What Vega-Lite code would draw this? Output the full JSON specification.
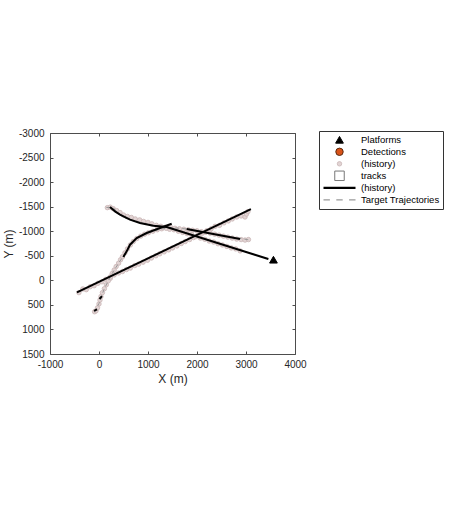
{
  "$schema": "https://vega.github.io/schema/vega-lite/v6.json",
  "width": 245,
  "height": 221,
  "autosize": {"type": "none"},
  "padding": {"left": 50, "top": 133, "right": 179, "bottom": 151},
  "background": "white",
  "config": {
    "font": "Liberation Sans",
    "view": {"stroke": "#4d4d4d", "strokeWidth": 1}
  },
  "resolve": {"axis": {"x": "independent", "y": "independent"}},
  "datasets": {
    "traj": [
      {"id": "T1", "i": 0, "x": -450, "y": 245},
      {"id": "T1", "i": 1, "x": 3100, "y": -1450},
      {"id": "T2", "i": 0, "x": 150, "y": -1485},
      {"id": "T2", "i": 1, "x": 300, "y": -1470},
      {"id": "T2", "i": 2, "x": 400, "y": -1350},
      {"id": "T2", "i": 3, "x": 550, "y": -1260},
      {"id": "T2", "i": 4, "x": 800, "y": -1180},
      {"id": "T2", "i": 5, "x": 1100, "y": -1120},
      {"id": "T2", "i": 6, "x": 1381, "y": -1086},
      {"id": "T2", "i": 7, "x": 3480, "y": -426},
      {"id": "T3", "i": 0, "x": -90, "y": 645},
      {"id": "T3", "i": 1, "x": 0, "y": 470},
      {"id": "T3", "i": 2, "x": 100, "y": 190},
      {"id": "T3", "i": 3, "x": 250, "y": -110},
      {"id": "T3", "i": 4, "x": 400, "y": -350},
      {"id": "T3", "i": 5, "x": 500, "y": -500},
      {"id": "T3", "i": 6, "x": 620, "y": -690},
      {"id": "T3", "i": 7, "x": 750, "y": -840},
      {"id": "T3", "i": 8, "x": 900, "y": -930},
      {"id": "T3", "i": 9, "x": 1100, "y": -1000},
      {"id": "T3", "i": 10, "x": 1300, "y": -1050},
      {"id": "T3", "i": 11, "x": 1480, "y": -1075},
      {"id": "T3", "i": 12, "x": 1800, "y": -1045},
      {"id": "T3", "i": 13, "x": 2400, "y": -935},
      {"id": "T3", "i": 14, "x": 3050, "y": -825}
    ],
    "tracks": [
      {"id": "K1", "i": 0, "x": -450, "y": 245},
      {"id": "K1", "i": 1, "x": 3100, "y": -1450},
      {"id": "K2", "i": 0, "x": 224, "y": -1493},
      {"id": "K2", "i": 1, "x": 327, "y": -1405},
      {"id": "K2", "i": 2, "x": 429, "y": -1337},
      {"id": "K2", "i": 3, "x": 633, "y": -1235},
      {"id": "K2", "i": 4, "x": 837, "y": -1167},
      {"id": "K2", "i": 5, "x": 1109, "y": -1113},
      {"id": "K2", "i": 6, "x": 1381, "y": -1086},
      {"id": "K2", "i": 7, "x": 3456, "y": -434},
      {"id": "K3a", "i": 0, "x": -100, "y": 620},
      {"id": "K3a", "i": 1, "x": -40, "y": 590},
      {"id": "K3b", "i": 0, "x": 10, "y": 380},
      {"id": "K3b", "i": 1, "x": 60, "y": 320},
      {"id": "K3c", "i": 0, "x": 497, "y": -475},
      {"id": "K3c", "i": 1, "x": 565, "y": -590},
      {"id": "K3c", "i": 2, "x": 633, "y": -726},
      {"id": "K3c", "i": 3, "x": 769, "y": -862},
      {"id": "K3c", "i": 4, "x": 973, "y": -963},
      {"id": "K3c", "i": 5, "x": 1245, "y": -1065},
      {"id": "K3c", "i": 6, "x": 1483, "y": -1153},
      {"id": "K3d", "i": 0, "x": 1789, "y": -1045},
      {"id": "K3d", "i": 1, "x": 2878, "y": -841}
    ],
    "pts": [
      {"series": "Platforms", "x": 3560, "y": -420},
      {"series": "det_history", "x": -410, "y": 250},
      {"series": "det_history", "x": -330, "y": 175},
      {"series": "det_history", "x": -260, "y": 190},
      {"series": "det_history", "x": -180, "y": 130},
      {"series": "det_history", "x": -100, "y": 110},
      {"series": "det_history", "x": -20, "y": 60},
      {"series": "det_history", "x": 60, "y": 30},
      {"series": "det_history", "x": 140, "y": -20},
      {"series": "det_history", "x": 230, "y": -40},
      {"series": "det_history", "x": 310, "y": -110},
      {"series": "det_history", "x": 400, "y": -150},
      {"series": "det_history", "x": 480, "y": -180},
      {"series": "det_history", "x": 560, "y": -220},
      {"series": "det_history", "x": 640, "y": -250},
      {"series": "det_history", "x": 730, "y": -300},
      {"series": "det_history", "x": 810, "y": -330},
      {"series": "det_history", "x": 900, "y": -370},
      {"series": "det_history", "x": 990, "y": -410},
      {"series": "det_history", "x": 1070, "y": -455},
      {"series": "det_history", "x": 1160, "y": -500},
      {"series": "det_history", "x": 1240, "y": -540},
      {"series": "det_history", "x": 1330, "y": -580},
      {"series": "det_history", "x": 1420, "y": -620},
      {"series": "det_history", "x": 1500, "y": -660},
      {"series": "det_history", "x": 1590, "y": -700},
      {"series": "det_history", "x": 1680, "y": -750},
      {"series": "det_history", "x": 1760, "y": -790},
      {"series": "det_history", "x": 1850, "y": -830},
      {"series": "det_history", "x": 1930, "y": -870},
      {"series": "det_history", "x": 2020, "y": -920},
      {"series": "det_history", "x": 2110, "y": -960},
      {"series": "det_history", "x": 2200, "y": -1010},
      {"series": "det_history", "x": 2290, "y": -1050},
      {"series": "det_history", "x": 2370, "y": -1100},
      {"series": "det_history", "x": 2460, "y": -1120},
      {"series": "det_history", "x": 2550, "y": -1170},
      {"series": "det_history", "x": 2640, "y": -1210},
      {"series": "det_history", "x": 2720, "y": -1250},
      {"series": "det_history", "x": 2810, "y": -1290},
      {"series": "det_history", "x": 2900, "y": -1310},
      {"series": "det_history", "x": 2980, "y": -1290},
      {"series": "det_history", "x": 3010, "y": -1350},
      {"series": "det_history", "x": 3040, "y": -1400},
      {"series": "det_history", "x": 170, "y": -1480},
      {"series": "det_history", "x": 230, "y": -1490},
      {"series": "det_history", "x": 290, "y": -1460},
      {"series": "det_history", "x": 360, "y": -1420},
      {"series": "det_history", "x": 430, "y": -1380},
      {"series": "det_history", "x": 500, "y": -1330},
      {"series": "det_history", "x": 580, "y": -1300},
      {"series": "det_history", "x": 660, "y": -1280},
      {"series": "det_history", "x": 740, "y": -1250},
      {"series": "det_history", "x": 830, "y": -1230},
      {"series": "det_history", "x": 910, "y": -1200},
      {"series": "det_history", "x": 1000, "y": -1180},
      {"series": "det_history", "x": 1080, "y": -1150},
      {"series": "det_history", "x": 1170, "y": -1120},
      {"series": "det_history", "x": 1260, "y": -1100},
      {"series": "det_history", "x": 1350, "y": -1080},
      {"series": "det_history", "x": 1440, "y": -1040},
      {"series": "det_history", "x": 1530, "y": -1030},
      {"series": "det_history", "x": 1620, "y": -1000},
      {"series": "det_history", "x": 1710, "y": -975},
      {"series": "det_history", "x": 1800, "y": -950},
      {"series": "det_history", "x": 1890, "y": -930},
      {"series": "det_history", "x": 1980, "y": -890},
      {"series": "det_history", "x": 2070, "y": -860},
      {"series": "det_history", "x": 2160, "y": -835},
      {"series": "det_history", "x": 2250, "y": -800},
      {"series": "det_history", "x": 2340, "y": -780},
      {"series": "det_history", "x": 2430, "y": -745},
      {"series": "det_history", "x": 2520, "y": -720},
      {"series": "det_history", "x": 2610, "y": -690},
      {"series": "det_history", "x": 2700, "y": -660},
      {"series": "det_history", "x": 2790, "y": -640},
      {"series": "det_history", "x": 2880, "y": -600},
      {"series": "det_history", "x": -90, "y": 640},
      {"series": "det_history", "x": -60, "y": 620},
      {"series": "det_history", "x": -30, "y": 560},
      {"series": "det_history", "x": 0, "y": 480},
      {"series": "det_history", "x": 20, "y": 400},
      {"series": "det_history", "x": 40, "y": 330},
      {"series": "det_history", "x": 70, "y": 250},
      {"series": "det_history", "x": 110, "y": 170},
      {"series": "det_history", "x": 150, "y": 90},
      {"series": "det_history", "x": 190, "y": 10},
      {"series": "det_history", "x": 230, "y": -70},
      {"series": "det_history", "x": 270, "y": -140},
      {"series": "det_history", "x": 310, "y": -210},
      {"series": "det_history", "x": 350, "y": -280},
      {"series": "det_history", "x": 400, "y": -350},
      {"series": "det_history", "x": 440, "y": -420},
      {"series": "det_history", "x": 480, "y": -480},
      {"series": "det_history", "x": 530, "y": -560},
      {"series": "det_history", "x": 580, "y": -640},
      {"series": "det_history", "x": 640, "y": -720},
      {"series": "det_history", "x": 700, "y": -790},
      {"series": "det_history", "x": 770, "y": -850},
      {"series": "det_history", "x": 850, "y": -900},
      {"series": "det_history", "x": 930, "y": -940},
      {"series": "det_history", "x": 1010, "y": -970},
      {"series": "det_history", "x": 1100, "y": -1000},
      {"series": "det_history", "x": 1190, "y": -1030},
      {"series": "det_history", "x": 1280, "y": -1050},
      {"series": "det_history", "x": 1370, "y": -1060},
      {"series": "det_history", "x": 1460, "y": -1080},
      {"series": "det_history", "x": 1550, "y": -1060},
      {"series": "det_history", "x": 1640, "y": -1050},
      {"series": "det_history", "x": 1730, "y": -1040},
      {"series": "det_history", "x": 1820, "y": -1030},
      {"series": "det_history", "x": 1910, "y": -1020},
      {"series": "det_history", "x": 2000, "y": -1010},
      {"series": "det_history", "x": 2090, "y": -990},
      {"series": "det_history", "x": 2180, "y": -980},
      {"series": "det_history", "x": 2270, "y": -960},
      {"series": "det_history", "x": 2360, "y": -940},
      {"series": "det_history", "x": 2450, "y": -920},
      {"series": "det_history", "x": 2540, "y": -900},
      {"series": "det_history", "x": 2630, "y": -880},
      {"series": "det_history", "x": 2720, "y": -860},
      {"series": "det_history", "x": 2810, "y": -840},
      {"series": "det_history", "x": 2900, "y": -830},
      {"series": "det_history", "x": 2980, "y": -820},
      {"series": "det_history", "x": 3050, "y": -830}
    ]
  },
  "layer": [
    {
      "data": {"name": "pts"},
      "mark": {"type": "point", "filled": true, "opacity": 1},
      "encoding": {
        "x": {
          "field": "x", "type": "quantitative",
          "scale": {"domain": [-1000, 4000], "nice": false, "zero": false},
          "axis": {
            "title": "X (m)", "values": [-1000, 0, 1000, 2000, 3000, 4000],
            "labelExpr": "'' + datum.value",
            "domain": false, "grid": false, "tickSize": -3, "tickColor": "#4d4d4d",
            "labelPadding": 8, "labelFontSize": 10, "labelColor": "#262626",
            "titleFontSize": 12, "titleFontWeight": "normal", "titleColor": "#262626", "titlePadding": 4,
            "labelFlush": false
          }
        },
        "y": {
          "field": "y", "type": "quantitative",
          "scale": {"domain": [-3000, 1500], "reverse": true, "nice": false, "zero": false},
          "axis": {
            "title": "Y (m)", "values": [-3000, -2500, -2000, -1500, -1000, -500, 0, 500, 1000, 1500],
            "labelExpr": "'' + datum.value",
            "domain": false, "grid": false, "tickSize": -3, "tickColor": "#4d4d4d",
            "labelPadding": 9, "labelFontSize": 10, "labelColor": "#262626",
            "titleFontSize": 12, "titleFontWeight": "normal", "titleColor": "#262626", "titlePadding": 3,
            "labelFlush": false
          }
        },
        "shape": {"field": "series", "type": "nominal",
          "scale": {"domain": ["Platforms", "Detections", "det_history", "tracks", "track_history", "Target Trajectories"],
                    "range": ["triangle-up", "circle", "circle", "square", "stroke", "M-1,0H-0.6M-0.2,0H0.2M0.6,0H1"]},
          "legend": {
            "orient": "none", "legendX": 269, "legendY": -2, "title": null,
            "strokeColor": "#333333", "fillColor": "white", "padding": 3,
            "labelFont": "Liberation Sans", "labelFontSize": 9.5, "labelColor": "black",
            "clipHeight": 11.6, "rowPadding": 0, "labelOffset": 4,
            "labelExpr": "datum.label == 'det_history' || datum.label == 'track_history' ? '(history)' : datum.label"
          }
        },
        "fill": {"field": "series", "type": "nominal",
          "scale": {"domain": ["Platforms", "Detections", "det_history", "tracks", "track_history", "Target Trajectories"],
                    "range": ["#000000", "#d95319", "#e2d4d4", "#ffffff", "transparent", "transparent"]}},
        "stroke": {"field": "series", "type": "nominal",
          "scale": {"domain": ["Platforms", "Detections", "det_history", "tracks", "track_history", "Target Trajectories"],
                    "range": ["#000000", "#5a2a10", "#c9b5b5", "#777777", "#000000", "#999999"]}},
        "size": {"field": "series", "type": "nominal",
          "scale": {"type": "ordinal", "domain": ["Platforms", "Detections", "det_history", "tracks", "track_history", "Target Trajectories"],
                    "range": [60, 55, 20, 90, 1024, 1024]}},
        "strokeWidth": {"field": "series", "type": "nominal",
          "scale": {"type": "ordinal", "domain": ["Platforms", "Detections", "det_history", "tracks", "track_history", "Target Trajectories"],
                    "range": [1, 1, 0.8, 1, 2.2, 1.2]}}
      }
    },
    {
      "data": {"name": "traj"},
      "mark": {"type": "line", "color": "#9a9a9a", "strokeWidth": 1, "strokeDash": [4, 3]},
      "encoding": {
        "x": {
          "field": "x", "type": "quantitative",
          "scale": {"domain": [-1000, 4000], "nice": false, "zero": false},
          "axis": {
            "orient": "top", "title": null, "labels": false, "values": [-1000, 0, 1000, 2000, 3000, 4000],
            "domain": false, "grid": false, "tickSize": -3, "tickColor": "#4d4d4d"
          }
        },
        "y": {
          "field": "y", "type": "quantitative",
          "scale": {"domain": [-3000, 1500], "reverse": true, "nice": false, "zero": false},
          "axis": {
            "orient": "right", "title": null, "labels": false, "values": [-3000, -2500, -2000, -1500, -1000, -500, 0, 500, 1000, 1500],
            "domain": false, "grid": false, "tickSize": -3, "tickColor": "#4d4d4d"
          }
        },
        "detail": {"field": "id", "type": "nominal"},
        "order": {"field": "i", "type": "quantitative"}
      }
    },
    {
      "data": {"name": "tracks"},
      "mark": {"type": "line", "color": "#000000", "strokeWidth": 2},
      "encoding": {
        "x": {"field": "x", "type": "quantitative", "axis": null,
          "scale": {"domain": [-1000, 4000], "nice": false, "zero": false}},
        "y": {"field": "y", "type": "quantitative", "axis": null,
          "scale": {"domain": [-3000, 1500], "reverse": true, "nice": false, "zero": false}},
        "detail": {"field": "id", "type": "nominal"},
        "order": {"field": "i", "type": "quantitative"}
      }
    }
  ]
}
